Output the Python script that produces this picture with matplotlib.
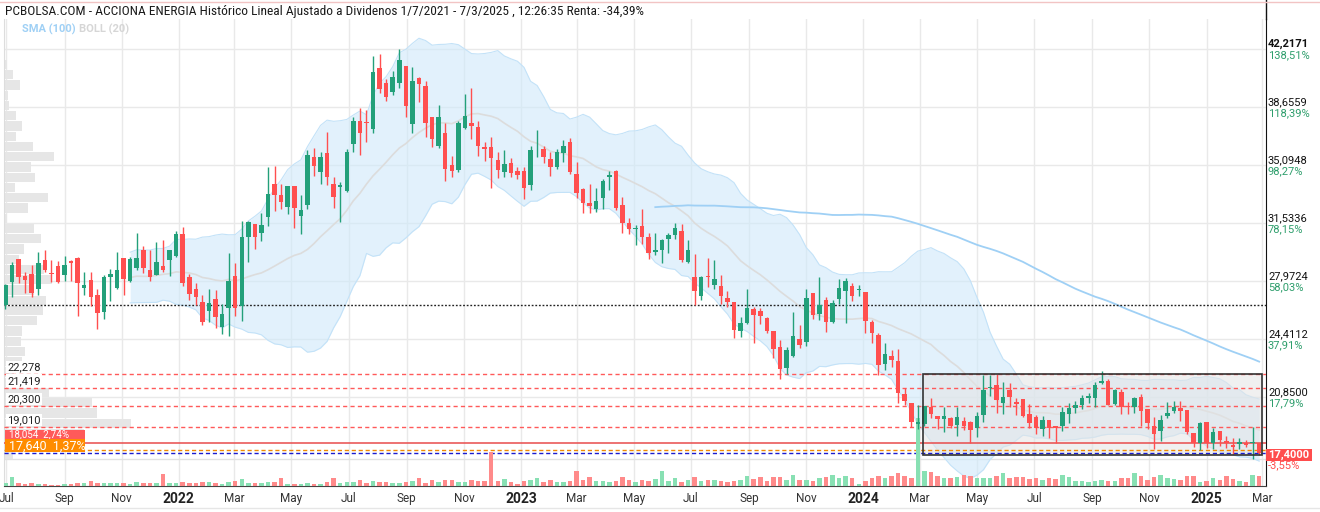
import matplotlib
matplotlib.use("Agg")
import matplotlib.pyplot as plt
import matplotlib.dates as mdates
from matplotlib.patches import Rectangle
from matplotlib.lines import Line2D
from matplotlib import font_manager
import numpy as np
import pandas as pd

plt.rcParams['font.family'] = ['Roboto', 'DejaVu Sans']

W, H = 1320, 512

# weekly candles ACCIONA ENERGIA, Jul 2021 - Mar 2025
opens = [26.50, 27.95, 29.34, 28.30, 28.42, 27.52, 29.28, 28.50, 28.91, 28.36, 29.24, 29.40, 27.58, 28.05, 27.11, 26.11, 28.26, 27.58, 29.40, 28.00, 28.81, 29.89, 28.67, 28.38, 28.91, 29.28, 29.53, 30.88, 28.22, 27.50, 26.72, 26.15, 26.90,
         25.15, 26.35, 28.30, 26.48, 30.69, 31.49, 30.93, 31.94, 33.95, 33.27, 32.56, 33.82, 32.00, 32.68, 35.59, 34.70, 35.83, 33.92, 33.74, 33.54, 36.42, 37.81, 37.78, 37.35, 41.07, 40.13, 39.62, 40.17, 41.21, 37.64, 40.44,
         39.97, 38.04, 36.30, 37.08, 35.10, 34.81, 37.41, 37.71, 37.47, 36.20, 36.24, 35.42, 34.71, 35.22, 34.75, 34.75, 33.89, 36.25, 36.10, 35.48, 34.97, 35.87, 36.51, 34.56, 33.64, 32.76, 32.43, 33.11, 34.40, 34.75, 32.66, 31.53, 31.16,
         31.37, 30.69, 29.79, 29.89, 30.59, 30.83, 31.06, 29.18, 28.24, 27.07, 28.30, 27.74, 27.68, 26.95, 26.70, 24.94, 25.43, 26.25, 26.15, 25.72, 24.92, 23.92, 22.63, 23.38, 24.41, 24.26, 27.23, 25.96, 26.82, 25.49, 26.91,
         27.40, 27.68, 27.41, 27.34, 25.49, 24.67, 22.89, 23.38, 23.08, 21.05, 20.48, 19.19, 19.21, 20.27, 19.70, 19.54, 19.56, 19.15, 19.39, 19.31, 18.98, 19.76, 21.40, 21.60, 20.52, 21.30, 20.54, 20.72, 19.82, 19.62, 18.88, 19.45, 19.09,
         19.11, 19.82, 20.21, 20.38, 20.83, 20.79, 21.75, 21.85, 20.44, 21.20, 20.34, 20.23, 20.89, 20.13, 19.09, 18.80, 19.70, 20.03, 20.17, 20.07, 18.68, 18.02, 19.33, 18.02, 18.78, 18.17, 17.92, 17.98, 18.02, 18.06, 18.02]
highs = [27.80, 29.18, 29.35, 28.52, 28.95, 29.77, 29.89, 29.28, 29.24, 29.53, 29.30, 29.44, 28.52, 28.52, 27.48, 28.36, 28.75, 29.77, 29.40, 29.48, 30.96, 30.14, 29.89, 30.41, 30.51, 29.89, 31.08, 31.31, 28.42, 27.85, 27.13, 27.48, 27.44,
         26.57, 29.73, 29.12, 31.68, 31.68, 31.49, 32.15, 35.01, 35.05, 33.95, 33.82, 33.82, 33.27, 36.04, 36.16, 35.90, 37.16, 34.35, 34.05, 36.10, 38.08, 38.59, 38.49, 41.83, 41.93, 40.37, 40.89, 42.22, 41.21, 41.13, 40.54,
         40.30, 38.04, 38.80, 37.71, 35.67, 37.82, 39.47, 39.82, 37.84, 36.53, 36.81, 35.93, 36.04, 35.56, 34.97, 34.97, 36.28, 37.26, 36.30, 35.93, 36.08, 36.65, 36.75, 35.32, 33.68, 33.95, 33.68, 34.23, 34.75, 34.81, 33.17, 31.84, 31.43,
         32.39, 30.96, 30.96, 30.59, 30.96, 31.53, 31.47, 30.51, 29.65, 28.30, 29.38, 29.28, 28.36, 27.38, 26.70, 25.76, 27.48, 26.37, 26.31, 25.80, 24.92, 24.37, 23.96, 26.09, 25.29, 27.48, 27.23, 28.22, 27.03, 26.82, 28.09,
         28.15, 27.85, 27.74, 27.34, 25.60, 24.82, 24.16, 23.75, 23.79, 21.40, 20.48, 20.38, 20.31, 20.78, 19.70, 20.27, 19.66, 20.27, 19.66, 19.41, 19.97, 22.22, 22.22, 22.28, 21.81, 21.70, 20.78, 20.72, 20.42, 19.76, 19.70, 19.45, 19.09,
         20.27, 20.48, 20.64, 20.99, 21.09, 21.81, 22.48, 21.97, 21.36, 21.36, 20.54, 20.89, 21.05, 20.13, 19.62, 19.76, 20.58, 20.64, 20.64, 20.07, 18.68, 19.35, 19.33, 18.94, 18.78, 18.47, 18.33, 18.33, 18.23, 19.00, 18.06]
lows = [26.30, 26.99, 27.89, 27.28, 26.99, 27.11, 28.52, 27.95, 27.89, 27.97, 28.00, 25.86, 27.11, 26.48, 25.02, 25.64, 26.78, 27.50, 27.15, 27.90, 28.67, 28.46, 28.00, 28.38, 28.52, 28.30, 29.44, 27.70, 26.85, 26.50, 25.29, 25.49, 25.08,
        24.74, 24.61, 25.84, 25.55, 29.18, 29.96, 30.47, 31.39, 32.31, 32.39, 32.08, 31.27, 30.86, 32.39, 34.43, 33.94, 33.90, 32.49, 31.63, 33.48, 35.93, 35.70, 36.52, 37.10, 39.56, 39.07, 39.39, 39.86, 38.08, 37.10, 39.00,
        36.85, 36.20, 36.18, 34.15, 34.40, 34.70, 37.30, 36.73, 35.67, 35.36, 33.72, 34.34, 34.40, 34.40, 34.23, 33.00, 33.58, 35.59, 35.26, 34.44, 34.85, 35.32, 34.54, 33.07, 32.19, 32.15, 32.23, 32.39, 33.58, 32.35, 30.92, 30.88, 30.20,
        30.24, 29.32, 29.59, 29.12, 29.69, 30.55, 29.18, 29.07, 26.52, 26.82, 27.60, 27.48, 26.58, 26.37, 24.47, 24.53, 25.35, 24.20, 25.35, 24.78, 23.28, 21.95, 22.28, 23.34, 23.85, 24.02, 25.66, 25.60, 24.88, 25.39, 26.56,
        25.39, 26.78, 27.07, 24.82, 24.20, 22.22, 22.52, 22.73, 20.48, 20.38, 19.04, 18.90, 19.10, 19.56, 18.88, 18.74, 18.94, 18.47, 18.84, 18.06, 18.43, 19.31, 20.90, 19.90, 19.80, 20.27, 19.76, 19.66, 18.98, 18.60, 18.47, 18.33, 18.06,
        18.78, 19.25, 19.90, 20.11, 20.52, 20.27, 21.65, 20.38, 20.38, 19.82, 19.82, 19.90, 19.11, 18.88, 17.65, 18.19, 19.56, 19.86, 19.41, 18.60, 17.78, 17.61, 17.72, 17.65, 17.86, 17.72, 17.37, 17.65, 17.78, 17.04, 17.30]
closes = [27.75, 28.97, 28.26, 28.05, 27.28, 29.10, 28.67, 28.45, 27.95, 28.95, 29.12, 27.89, 27.75, 27.03, 26.05, 28.22, 28.42, 28.67, 28.13, 29.34, 29.40, 28.81, 28.24, 29.16, 28.67, 29.89, 30.88, 27.89, 27.17, 27.03, 25.49, 26.62, 25.80,
          25.96, 27.99, 26.35, 30.69, 31.59, 30.69, 31.43, 33.33, 33.27, 32.86, 33.82, 32.49, 32.35, 35.73, 35.07, 35.61, 34.35, 33.14, 33.88, 35.90, 37.81, 37.10, 37.70, 40.81, 39.80, 39.31, 40.52, 41.56, 38.74, 40.27, 40.11,
          37.67, 36.69, 38.04, 34.89, 34.73, 37.71, 38.12, 37.53, 36.30, 36.12, 35.56, 34.81, 35.18, 34.64, 34.50, 33.72, 36.04, 36.30, 35.63, 34.97, 35.93, 36.30, 34.71, 33.42, 32.80, 32.62, 32.90, 34.13, 34.48, 32.49, 31.53, 31.16, 31.27,
          30.71, 29.73, 29.89, 30.51, 30.81, 31.22, 29.28, 29.89, 27.40, 28.24, 28.22, 28.09, 27.09, 26.72, 24.98, 25.39, 26.33, 25.90, 25.84, 24.94, 23.81, 22.59, 23.75, 24.61, 24.06, 26.93, 25.90, 26.49, 25.49, 26.62, 27.54,
          27.99, 27.07, 27.45, 25.55, 24.82, 22.83, 23.51, 23.14, 21.09, 20.62, 19.35, 19.35, 20.31, 19.82, 19.54, 19.70, 19.09, 19.66, 19.09, 18.84, 19.70, 21.30, 21.45, 20.68, 20.87, 20.85, 20.42, 19.72, 19.25, 18.94, 19.45, 18.94, 18.94,
          19.97, 20.21, 20.38, 20.83, 20.95, 21.60, 21.85, 20.38, 21.30, 20.27, 20.23, 20.83, 20.03, 19.25, 18.60, 19.45, 19.90, 20.27, 20.03, 18.74, 18.02, 19.29, 18.02, 18.72, 18.23, 18.02, 17.82, 18.12, 17.92, 18.12, 17.40]
# relative weekly volume
volumes = [3, 8.7, 2.7, 2, 3, 2, 2, 1, 1, 2, 2, 3, 3, 4.7, 3, 3, 3, 3, 3, 2, 3.7, 3, 3, 3, 12, 3, 3, 3.7, 3, 3, 3.7, 3.7, 3,
           2.3, 4, 5, 7.3, 3.3, 3.3, 3.3, 4, 4.3, 8.3, 2.3, 2.3, 2.3, 3.3, 2.3, 2.3, 4, 8.3, 3.3, 4.3, 4.3, 6, 3.3, 5, 4.3, 4.3, 3.3, 3.3, 4.3, 5, 8.3,
           3.3, 6, 4, 6, 6, 4, 4, 6, 5, 5, 34, 5, 7.3, 4, 2.3, 5, 6, 8.3, 4, 6, 4, 4, 5, 15, 6, 9.3, 5, 5, 4, 5, 9.3, 6, 4,
           6, 5.3, 7, 15, 5.3, 8, 4.3, 6, 8.7, 5.3, 6.3, 6.3, 5.3, 4.3, 5.3, 6.3, 10.3, 7, 9.3, 5.3, 8.7, 9.3, 6.3, 11.3, 6.3, 6.3, 5.3, 7.7, 8.7, 11.3, 7.7,
           10.3, 8, 2, 5.3, 8, 9.7, 7.7, 9.7, 12.7, 9.7, 7.7, 68, 14.7, 14.3, 10.3, 7.7, 7.7, 8.7, 11.3, 9.7, 7.7, 7.7, 7.7, 10.3, 12.7, 8, 8.7, 8.7, 7, 8, 6, 8, 7,
           11.3, 9.3, 5.3, 5.3, 4.3, 5.3, 6.3, 4.7, 5.3, 7.7, 7.7, 12.7, 9.7, 6.3, 9.3, 11.3, 8, 7, 6, 9.7, 9.7, 4.3, 5.3, 8, 6.3, 9.7, 7, 5.3, 4.3, 11, 9.7]

weeks = pd.date_range("2021-06-30", periods=len(closes), freq="7D")

# volume by price (top bin first)
profile = [3, 8.7, 16, 4, 5, 12, 17.7, 11.7, 28.7, 50, 26.7, 31.3, 11.3, 43.7, 24.3, 3.3, 29.7, 36.7, 19.7, 15,
           40, 48, 30, 41.7, 39.3, 33.3, 17.7, 16.7, 21, 17.7, 10, 12, 45, 88, 93, 127, 80, 80, 9]
profile_top = 41.60
profile_step = 0.6295

price_ticks = [42.2171, 38.6559, 35.0948, 31.5336, 27.9724, 24.4112, 20.8500]
price_labels = ["42,2171", "38,6559", "35,0948", "31,5336", "27,9724", "24,4112", "20,8500"]
pct_labels = ["138,51%", "118,39%", "98,27%", "78,15%", "58,03%", "37,91%", "17,79%"]

levels = [22.278, 21.419, 20.300, 19.010]
level_labels = ["22,278", "21,419", "20,300", "19,010"]
last_price = 17.40
ref_line = 26.52

month_ticks = pd.date_range("2021-07-01", "2025-03-01", freq="2MS")
month_labels = ["Jul", "Sep", "Nov", "2022", "Mar", "May", "Jul", "Sep", "Nov", "2023", "Mar", "May",
                "Jul", "Sep", "Nov", "2024", "Mar", "May", "Jul", "Sep", "Nov", "2025", "Mar"]

title = ("PCBOLSA.COM - ACCIONA ENERGIA Histórico Lineal Ajustado a Dividenos 1/7/2021 - 7/3/2025 , "
         "12:26:35 Renta: -34,39%")

# ---- layout ----
ppx = 3.5612 / 58.0      # price per pixel
pxd = 0.9377             # pixel per day


def price_at(ypx):
    return 42.2171 - (ypx - 49.3) * ppx


fig = plt.figure(figsize=(W / 100, H / 100), dpi=100)
ax = fig.add_axes([4 / W, (H - 486) / H, 1262 / W, (486 - 19) / H])

d0 = mdates.date2num(pd.Timestamp("2021-07-01"))
ax.set_xlim(d0 + (4 - 6.4) / pxd, d0 + (1266 - 6.4) / pxd)
ymin, ymax = price_at(486), price_at(19)
ax.set_ylim(ymin, ymax)

x = mdates.date2num(weeks)
o = np.array(opens); hi = np.array(highs); lo = np.array(lows); c = np.array(closes)
up = c >= o
GREEN, RED = "#23a07a", "#ff4f4f"
col = np.where(up, GREEN, RED)
vcol = np.where(up, "#88e0b3", "#ff8a8a")

# grid
ax.set_yticks(price_ticks)
ax.set_xticks(mdates.date2num(month_ticks))
ax.set_xticklabels(month_labels)
ax.grid(True, color="#e9e9e9", lw=1, zorder=0)
ax.set_axisbelow(True)
ax.axhline(price_at(459.3), color="#e2e2e2", lw=1, zorder=0.6)
ax.tick_params(axis="y", length=0, labelleft=False)
ax.tick_params(axis="x", length=0, pad=4, labelsize=8.5, colors="#333333")
for lab in ax.get_xticklabels():
    if lab.get_text().isdigit():
        lab.set_fontweight("bold")
        lab.set_fontsize(10)
        lab.set_color("#222222")

# volume profile on the left
centers = profile_top - (np.arange(len(profile)) + 0.5) * profile_step
ax.barh(centers, np.array(profile) / pxd, left=ax.get_xlim()[0], height=profile_step * 0.9,
        color="#e6e6e6", zorder=0.8, lw=0)

# bollinger and sma
s = pd.Series(closes)
mid = s.rolling(20).mean()
sd = s.rolling(20).std(ddof=0)
ax.fill_between(x, mid - 2 * sd, mid + 2 * sd, color="#cfe9fb", alpha=0.6, lw=0, zorder=1)
ax.plot(x, mid + 2 * sd, color="#c3e2f8", lw=0.8, zorder=1.1)
ax.plot(x, mid - 2 * sd, color="#c3e2f8", lw=0.8, zorder=1.1)
ax.plot(x, mid, color="#dcdcdc", lw=1.2, zorder=1.2)
ax.plot(x, s.rolling(100).mean(), color="#9fd0f5", lw=1.3, zorder=3)

# range box
rx0 = mdates.date2num(pd.Timestamp("2024-03-05"))
rx1 = mdates.date2num(pd.Timestamp("2025-03-01"))
ax.add_patch(Rectangle((rx0, 17.29), rx1 - rx0, 22.278 - 17.29, facecolor="#e4e4e4", alpha=0.55,
                       edgecolor="none", zorder=2))
ax.add_patch(Rectangle((rx0, 17.29), rx1 - rx0, 22.278 - 17.29, facecolor="none",
                       edgecolor="#333333", lw=1.2, zorder=6))

# horizontal levels
for lv in levels:
    ax.axhline(lv, color="#ff5a5a", lw=1, ls=(0, (3, 2.3)), zorder=3.5)
ax.axhline(ref_line, color="#222222", lw=1, ls=(0, (1.3, 1.3)), zorder=3.5)
ax.axhline(18.054, color="#e84c4c", lw=1.1, zorder=3.5)
ax.axhline(17.64, color="#f08a00", lw=1, ls=(0, (3, 2)), zorder=3.5)
ax.axhline(last_price, color="#1a1ad0", lw=1, ls=(0, (3, 2)), zorder=3.5)

# volume bars at the bottom
ax.bar(x, np.array(volumes) * ppx, bottom=ymin, width=4.8, color=vcol, lw=0, zorder=4)

# candles
ax.vlines(x, lo, hi, colors=col, lw=1, zorder=5)
ax.bar(x, np.maximum(np.abs(c - o), 0.06), bottom=np.minimum(o, c), width=4.8, color=col, lw=0, zorder=5.5)

# spines
ax.spines["top"].set_visible(False)
ax.spines["left"].set_color("#dddddd")
ax.spines["right"].set_color("#111111")
ax.spines["bottom"].set_color("#444444")

# left labels
ytr = ax.get_yaxis_transform()
for lv, lab in zip(levels, level_labels):
    ax.text(0.0025, lv + 2.2 * ppx, lab, transform=ytr, fontsize=8, color="#222222", va="bottom", ha="left",
            zorder=8, bbox=dict(boxstyle="square,pad=0.12", fc="white", ec="none"))
bw = 80 / 1262
ax.add_patch(Rectangle((0.0008, price_at(439.5)), bw, 10 * ppx, transform=ytr, facecolor="#ff5a5a",
                       edgecolor="none", zorder=8, clip_on=False))
ax.text(0.004, price_at(434.3), "18,054  2,74%", transform=ytr, fontsize=7, color="white",
        va="center", ha="left", zorder=8.1)
ax.add_patch(Rectangle((0.0008, price_at(452)), bw, 12.5 * ppx, transform=ytr, facecolor="#ff8c00",
                       edgecolor="none", zorder=8.2, clip_on=False))
ax.text(0.004, price_at(445.8), "17,640  1,37%", transform=ytr, fontsize=9, color="white",
        va="center", ha="left", zorder=8.3)

# right axis labels
for i, (p, lab, pct) in enumerate(zip(price_ticks, price_labels, pct_labels)):
    yp = 49.3 + 58 * i
    fig.text(1268 / W, 1 - (yp - 5.3) / H, lab, fontsize=8, color="#111111", va="center", ha="left",
             fontweight="bold" if i == 0 else "normal")
    fig.text(1268 / W, 1 - (yp + 5.7) / H, pct, fontsize=8, color="#2e9e6c", va="center", ha="left")
fig.add_artist(Rectangle((1266 / W, 1 - 461 / H), 46 / W, 12 / H, transform=fig.transFigure,
                         facecolor="#ff4d4d", edgecolor="none"))
fig.text(1289 / W, 1 - 455 / H, "17,4000", fontsize=8, color="white", fontweight="bold",
         va="center", ha="center")
fig.text(1268 / W, 1 - 465.5 / H, "-3,55%", fontsize=8, color="#ff4d4d", va="center", ha="left")

# borders
fig.add_artist(Line2D([1266 / W, 1266 / W], [1 - 19 / H, 1.0], transform=fig.transFigure, color="#111111", lw=1))
fig.add_artist(Line2D([0, 1], [1 - 1.5 / H, 1 - 1.5 / H], transform=fig.transFigure, color="#f2c4c4", lw=1))
fig.add_artist(Line2D([0, 1], [1 - 508 / H, 1 - 508 / H], transform=fig.transFigure, color="#e6e6e6", lw=1))

# title, fitted to the original width
names = {f.name for f in font_manager.fontManager.ttflist}
tfont = "Roboto"
for cand in ["Roboto Condensed", "Liberation Sans Narrow"]:
    if cand in names:
        tfont = cand
        break
t = fig.text(5 / W, 1 - 11 / H, title, fontsize=9, va="center", ha="left", color="#1a1a1a",
             family=[tfont, "DejaVu Sans"])
fig.canvas.draw()
tw = t.get_window_extent().width
t.set_fontsize(9 * 638 / tw)

# indicator legend
sma_t = fig.text(22 / W, 1 - 29 / H, "SMA (100)", fontsize=8, color="#9fd0f5", fontweight="bold", va="center")
fig.canvas.draw()
sx1 = sma_t.get_window_extent().x1
fig.text((sx1 + 3) / W, 1 - 29 / H, "BOLL (20)", fontsize=8, color="#d6d6d6", fontweight="bold", va="center")

fig.savefig("out.png", dpi=100)
